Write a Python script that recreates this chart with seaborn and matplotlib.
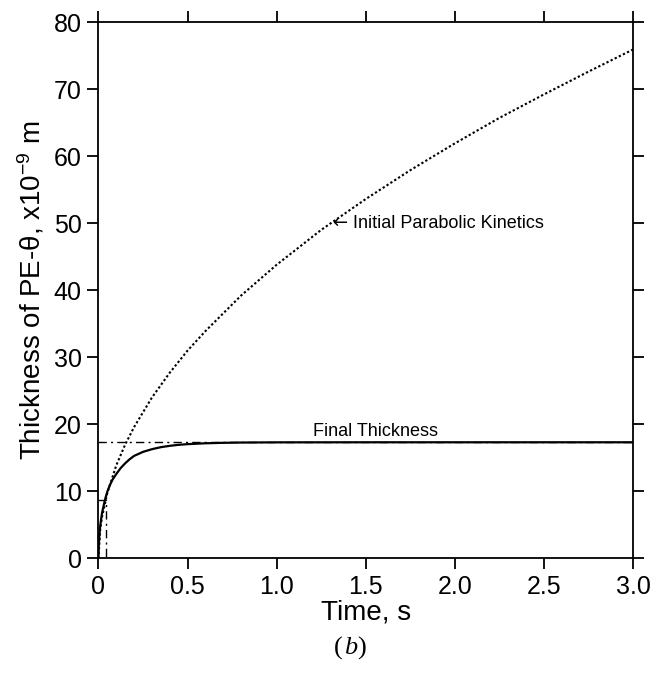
import numpy as np
import pandas as pd
import matplotlib
matplotlib.use("Agg")
import matplotlib.pyplot as plt
import seaborn as sns

# Time (s) and film thickness (x1e-9 m)
t_parabolic = [0.0, 0.01, 0.02, 0.05, 0.1, 0.15, 0.2, 0.3, 0.4, 0.5, 0.6, 0.8, 1.0,
               1.25, 1.5, 1.75, 2.0, 2.25, 2.5, 2.75, 3.0]
h_parabolic = [0.0, 4.4, 6.2, 9.8, 13.9, 17.0, 19.6, 24.0, 27.7, 31.0, 33.9, 39.2, 43.8,
               49.0, 53.6, 57.9, 61.9, 65.7, 69.2, 72.6, 75.9]

t_growth = [0.0, 0.002, 0.005, 0.01, 0.015, 0.02, 0.03, 0.04, 0.05, 0.065, 0.08,
            0.1, 0.125, 0.15, 0.175, 0.2, 0.25, 0.3, 0.35, 0.4, 0.45, 0.5, 0.6,
            0.7, 0.8, 1.0, 1.5, 2.0, 3.0]
h_growth = [0.0, 2.2, 3.5, 4.9, 5.9, 6.8, 8.0, 9.1, 10.0, 11.0, 11.8,
            12.6, 13.5, 14.2, 14.8, 15.3, 15.9, 16.3, 16.6, 16.8, 16.95, 17.05, 17.18,
            17.25, 17.29, 17.32, 17.33, 17.33, 17.33]

final_thickness = 17.33
t_onset = 0.04
h_onset = 8.7

x_ticks = [0, 0.5, 1.0, 1.5, 2.0, 2.5, 3.0]
x_ticklabels = ["0", "0.5", "1.0", "1.5", "2.0", "2.5", "3.0"]
y_ticks = [0, 10, 20, 30, 40, 50, 60, 70, 80]

sns.set_style("ticks")
plt.rcParams["font.family"] = ["Liberation Sans", "DejaVu Sans"]
plt.rcParams["mathtext.fontset"] = "custom"
plt.rcParams["mathtext.rm"] = "Liberation Sans"
plt.rcParams["mathtext.it"] = "Liberation Sans:italic"
for key in ["text.color", "axes.labelcolor", "xtick.color", "ytick.color"]:
    plt.rcParams[key] = "black"

fig = plt.figure(figsize=(6.64, 6.75), dpi=100)
ax = fig.add_axes([0.1483, 0.1726, 0.8050, 0.7948])

df_par = pd.DataFrame({"t": t_parabolic, "h": h_parabolic})
df_gro = pd.DataFrame({"t": t_growth, "h": h_growth})
df_final = pd.DataFrame({"t": [0.0, 3.0], "h": [final_thickness, final_thickness]})
df_onset = pd.DataFrame({"t": [0.0, t_onset, t_onset], "h": [h_onset, h_onset, 0.0]})

dashdot = (0, (6, 3, 1.5, 3))
sns.lineplot(data=df_final, x="t", y="h", ax=ax, color="black", lw=1.0,
             linestyle=dashdot, estimator=None, sort=False)
sns.lineplot(data=df_onset, x="t", y="h", ax=ax, color="black", lw=1.0,
             linestyle=dashdot, estimator=None, sort=False)
sns.lineplot(data=df_par, x="t", y="h", ax=ax, color="black", lw=1.5,
             linestyle=(0, (1.1, 1.1)), estimator=None)
sns.lineplot(data=df_gro, x="t", y="h", ax=ax, color="black", lw=1.6,
             estimator=None)

ax.set_xlim(0, 3.0)
ax.set_ylim(0, 80)
ax.set_xticks(x_ticks)
ax.set_xticklabels(x_ticklabels)
ax.set_yticks(y_ticks)
ax.tick_params(axis="both", which="major", direction="out", length=8, width=1.3,
               labelsize=18, colors="black", pad=4,
               top=True, right=True, labeltop=False, labelright=False)
for s in ax.spines.values():
    s.set_visible(True)
    s.set_linewidth(1.3)
    s.set_color("black")

ax.set_xlabel("Time, s", fontsize=20, labelpad=0)
ax.set_ylabel("Thickness of PE-\u03b8, x10$^{-9}$ m", fontsize=20, labelpad=5)

ax.text(1.312, 50.0, "\u2190", fontsize=13, ha="left", va="center",
        family=["DejaVu Sans"])
ax.text(1.43, 50.0, "Initial Parabolic Kinetics", fontsize=13,
        ha="left", va="center")
ax.text(1.555, final_thickness + 0.3, "Final Thickness", fontsize=13,
        ha="center", va="bottom")

# figure panel tag: upright parentheses around an italic letter
fig.text(0.516, 0.04, "(", fontsize=19, family="Liberation Serif", ha="right", va="center")
fig.text(0.518, 0.04, "b", fontsize=19, family="Liberation Serif", style="italic",
         ha="left", va="center")
fig.text(0.538, 0.04, ")", fontsize=19, family="Liberation Serif", ha="left", va="center")

fig.savefig("out.png", dpi=100)
